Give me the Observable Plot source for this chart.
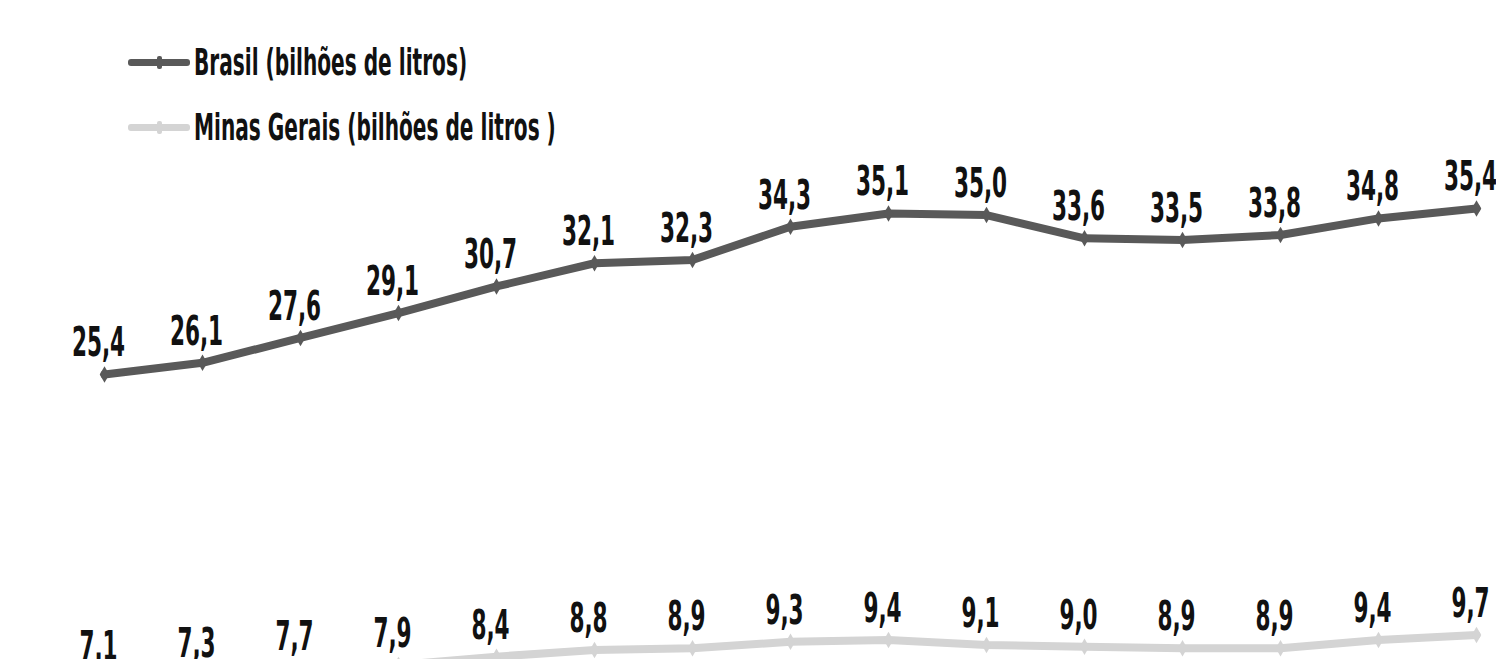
<!DOCTYPE html>
<html><head><meta charset="utf-8">
<script src="https://cdn.jsdelivr.net/npm/d3@7"></script>
<script src="https://cdn.jsdelivr.net/npm/@observablehq/plot@0.6"></script>
<style>
html,body{margin:0;padding:0;background:#fff;}
#legend{height:150px;position:relative;font-family:"Liberation Sans Narrow","DejaVu Sans Condensed",sans-serif;font-weight:bold;}
.item{position:absolute;left:128px;display:flex;align-items:center;}
.swatch{width:62px;height:7px;border-radius:3px;position:relative;}
.swatch::after{content:"";position:absolute;left:29px;top:-3px;width:5px;height:13px;background:inherit;border-radius:2px;}
.lab{display:inline-block;font-size:26px;color:#111;margin-left:4px;transform:scale(0.86,1.4);transform-origin:left center;white-space:nowrap;}
</style></head>
<body>
<div id="legend"></div>
<div id="chart"></div>
<script>
const years = [2006,2007,2008,2009,2010,2011,2012,2013,2014,2015,2016,2017,2018,2019,2020];
const brasil = [25.4,26.1,27.6,29.1,30.7,32.1,32.3,34.3,35.1,35.0,33.6,33.5,33.8,34.8,35.4];
const minas = [7.1,7.3,7.7,7.9,8.4,8.8,8.9,9.3,9.4,9.1,9.0,8.9,8.9,9.4,9.7];
const seriesNames = ["Brasil (bilhões de litros)", "Minas Gerais (bilhões de litros )"];
const seriesColors = ["#595959", "#d4d4d4"];

const rows = [];
years.forEach((y,i)=>{
  rows.push({year:y, value:brasil[i], series:seriesNames[0]});
  rows.push({year:y, value:minas[i], series:seriesNames[1]});
});
const fmt = v => v.toFixed(1).replace(".", ",");

// legend
const leg = document.getElementById("legend");
seriesNames.forEach((n,i)=>{
  const it = document.createElement("div");
  it.className = "item";
  it.style.top = (i===0 ? 47 : 112) + "px";
  it.innerHTML = `<div class="swatch" style="background:${seriesColors[i]}"></div><span class="lab">${n}</span>`;
  leg.appendChild(it);
});

const plot = Plot.plot({
  width: 1496,
  height: 509,
  margin: 0,
  x: {type: "point", domain: years, range: [102, 1478], padding: 0, axis: null},
  y: {domain: [0, 40], range: [645.6, -18.4], axis: null},
  color: {domain: seriesNames, range: seriesColors},
  marks: [
    Plot.line(rows, {x: "year", y: "value", z: "series", stroke: "series", strokeWidth: 8, strokeLinejoin: "round"}),
    Plot.dot(rows, {x: "year", y: "value", fill: "series", r: 5, symbol: "diamond"}),
    Plot.text(rows, {x: "year", y: "value", text: d => fmt(d.value), dx: -6, dy: -18, lineAnchor: "bottom",
      fontSize: 30, fontWeight: "bold", fill: "#111", fontFamily: "Liberation Sans Narrow, DejaVu Sans Condensed, sans-serif"})
  ]
});
plot.style.overflow = "visible";
document.getElementById("chart").appendChild(plot);
// narrow and stretch labels vertically like the original
plot.querySelectorAll("text").forEach(t=>{
  const tr = t.getAttribute("transform");
  if (tr) t.setAttribute("transform", tr + " scale(0.8,1.35)");
  else {
    const x = t.getAttribute("x"), y = t.getAttribute("y");
    if (x!=null && y!=null){ t.removeAttribute("x"); t.removeAttribute("y"); t.setAttribute("transform", `translate(${x},${y}) scale(0.8,1.35)`); }
  }
});
</script>
</body></html>
